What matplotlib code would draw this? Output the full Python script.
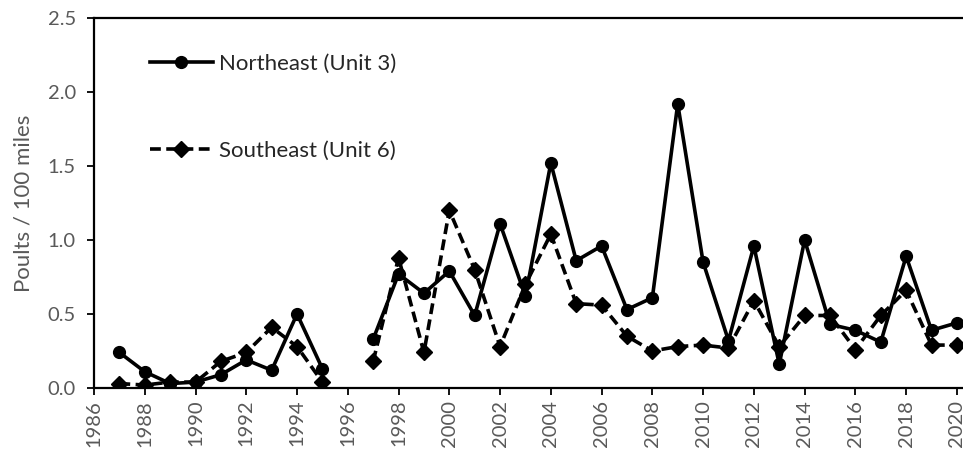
import numpy as np
import matplotlib.pyplot as plt

years = list(range(1987, 2021))
# 1996 has no survey value
northeast = [0.24, 0.11, 0.03, 0.04, 0.09, 0.19, 0.12, 0.50, 0.13, np.nan,
             0.33, 0.77, 0.64, 0.79, 0.49, 1.11, 0.62, 1.52, 0.86, 0.96,
             0.53, 0.61, 1.92, 0.85, 0.32, 0.96, 0.16, 1.00, 0.43, 0.39,
             0.31, 0.89, 0.39, 0.44]
southeast = [0.03, 0.02, 0.04, 0.04, 0.18, 0.24, 0.41, 0.28, 0.04, np.nan,
             0.18, 0.88, 0.24, 1.20, 0.80, 0.28, 0.70, 1.04, 0.57, 0.56,
             0.35, 0.25, 0.28, 0.29, 0.27, 0.59, 0.28, 0.49, 0.49, 0.26,
             0.49, 0.66, 0.29, 0.29]

plt.rcParams['font.family'] = ['Lato', 'DejaVu Sans']

fig = plt.figure(figsize=(9.63, 4.49), dpi=100)
ax = fig.add_axes([94/963, 1 - 388/449, 1 - 94/963, 370/449])

ax.plot(years, northeast, color='black', lw=2.6, marker='o', markersize=8.5,
        label='Northeast (Unit 3)')
ax.plot(years, southeast, color='black', lw=2.6, marker='D', markersize=8,
        linestyle=(0, (3.0, 1.5)), label='Southeast (Unit 6)')

ax.set_xlim(1986, 2020.24)
ax.set_ylim(0, 2.5)
ax.set_xticks(range(1986, 2021, 2))
ax.set_yticks(np.arange(0, 2.51, 0.5))
ax.set_yticklabels(['%.1f' % v for v in np.arange(0, 2.51, 0.5)])
ax.tick_params(axis='x', rotation=90, labelsize=14.5, length=5, width=1.3)
ax.tick_params(axis='y', labelsize=14.5, length=5, width=1.3, pad=8)
ax.tick_params(colors='black', labelcolor='#595959')

for s in ['left', 'top', 'bottom']:
    ax.spines[s].set_linewidth(1.6)
ax.spines['right'].set_visible(False)

ax.set_ylabel('Poults / 100 miles', fontsize=16, color='#595959', labelpad=10)

leg = ax.legend(loc='upper left', bbox_to_anchor=(0.064, 0.904), frameon=False,
                fontsize=16, handlelength=2.85, handletextpad=0.25,
                labelspacing=3.04, borderpad=0, borderaxespad=0)
for t in leg.get_texts():
    t.set_color('#262626')

fig.savefig('out.png', dpi=100)
